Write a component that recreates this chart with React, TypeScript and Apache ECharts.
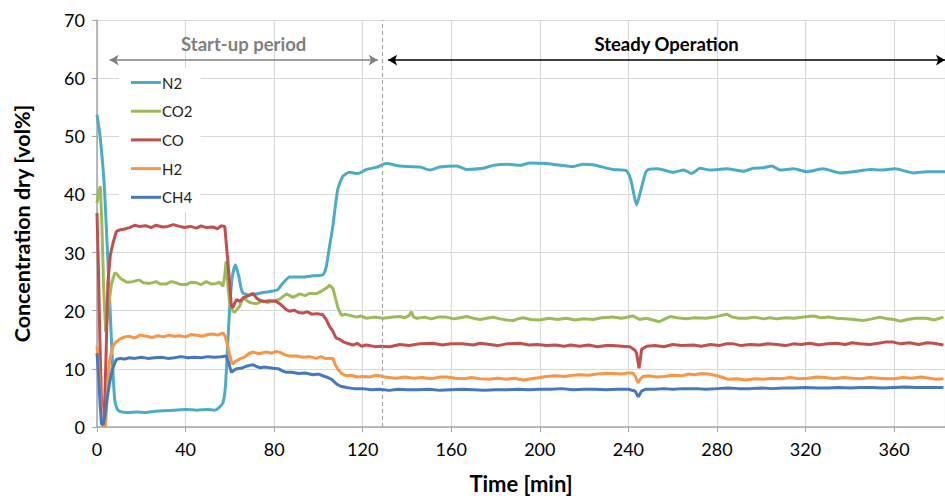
import React, { useEffect, useRef } from "react";
import * as echarts from "echarts";

const seriesNames = ["N2", "CO2", "CO", "H2", "CH4"];
const seriesColors = ["#4BACC6", "#9BBB59", "#C0504D", "#F79646", "#4777C0"];

const n2: number[][] = [[0,53.7],[1.2,50.6],[2.5,45.5],[3.4,40.8],[4.5,32],[5.7,22],[7,11],[8,4.7],[9,3.2],[10.2,2.7],[14,2.5],[18,2.6],[22,2.5],[26,2.7],[30,2.8],[35,2.9],[40,3.0],[45,2.9],[50,3.0],[53,2.9],[55,3.3],[56.9,4.2],[58,7],[59,14],[60,21],[61,25.5],[62.5,27.9],[64,26],[65,24],[66,23],[69,22.7],[73.5,23],[78,23.3],[81.6,23.6],[83,24.3],[84.8,25.1],[87,25.8],[93,25.8],[97.5,26],[102,26.2],[103.5,27.5],[105,31],[106.5,34.5],[108.7,40.8],[111,43.1],[114,43.8],[117.8,43.6],[121.8,44.3],[126.4,44.7],[130.7,45.3],[136.8,44.9],[145.8,44.7],[150.3,44.2],[154.8,44.7],[162.4,44.9],[166.9,44.3],[174.4,44.5],[179,45.0],[185,45.2],[191,45.0],[195.5,45.4],[203,45.3],[207.6,45.1],[215,44.8],[219.6,45.2],[224,45.1],[233,44.3],[239,44.1],[240.5,43.2],[241.5,41.9],[243.7,38.2],[246,41.3],[248.3,44.1],[252.8,44.4],[256,44.2],[260.3,43.8],[265,44.2],[268.6,43.6],[272.4,44.5],[276.9,44.2],[284.4,44.4],[292,44.0],[296.5,44.5],[301,44.6],[304.8,44.9],[308.5,44.2],[314.5,44.4],[320.6,43.9],[328,44.4],[335.6,43.7],[341.6,43.9],[349.2,44.3],[353.7,44.2],[360.5,44.4],[368.8,43.7],[374.8,43.9],[383,43.9]];

const co2: number[][] = [[0,38.5],[0.8,40.5],[1.5,41.4],[2.2,35],[3,24],[3.9,16.4],[5,20],[6.5,24.5],[8,26.5],[9,26.3],[10.5,25.6],[11.7,25.3],[13.5,24.9],[16.2,25.0],[19,25.3],[21,24.8],[23.8,24.7],[26.8,25.0],[28.5,24.6],[31.3,24.6],[33.5,25.0],[35.8,24.8],[38,24.5],[40.4,24.5],[42.5,24.9],[44.9,24.8],[47,24.5],[49.4,25.0],[51.5,24.6],[53.9,24.7],[55.4,24.9],[56.9,24.2],[57.7,26],[58.3,28.5],[59.2,24],[59.9,21.5],[61,20.2],[62,19.7],[63.2,20.2],[64.5,20.8],[66,22.3],[67.5,21.8],[69,21.4],[72,21.2],[75,21.7],[77,21.4],[79.5,21.7],[82.5,22.0],[85.6,22.9],[88.5,22.3],[91.6,22.9],[94,22.6],[96,23.0],[99,22.9],[102,23.5],[104,24.0],[105,24.4],[106.6,23.8],[107.8,22],[108.9,20.4],[110.4,19.2],[112,19.4],[114.2,19.2],[117.2,18.9],[119,19.1],[121.7,18.7],[125,18.9],[129.2,18.7],[133.6,18.9],[136.8,19.0],[139,18.8],[141,19.2],[142,19.8],[143,18.9],[144.5,18.7],[148,18.9],[151,18.6],[154,18.9],[157.9,18.9],[161,18.6],[164,18.8],[167,19.0],[170,18.7],[173,18.5],[176,18.7],[179,18.9],[182,18.6],[185,18.4],[188,18.3],[190,18.6],[192.5,18.8],[196,18.5],[200,18.4],[204,18.7],[208,18.5],[212,18.7],[216,18.4],[220,18.6],[224,18.5],[228,18.8],[233,18.9],[237,18.7],[242,19.1],[245,18.5],[248,18.7],[251,18.4],[254,18.1],[256.5,18.6],[258.8,19.0],[262,18.8],[266,18.6],[270,18.8],[275,18.7],[279,18.9],[282,19.2],[284.4,19.4],[287,18.9],[290,18.7],[293.5,18.7],[297,18.9],[301,18.6],[304,18.8],[307,18.6],[311,18.8],[315,18.7],[319,18.9],[323.6,19.1],[327,18.8],[331,18.9],[334,18.7],[338,18.6],[342,18.5],[346,18.3],[350,18.6],[353.7,18.9],[357,18.6],[360,18.5],[362.8,18.2],[366,18.5],[370,18.7],[374.8,18.7],[378,18.4],[382.3,18.9]];

const co: number[][] = [[0,36.8],[0.6,28],[1.3,15],[2,5],[2.7,0.5],[3.4,3],[4.2,14],[4.9,24.8],[6,29.5],[7.2,31.6],[8.7,33.6],[10.2,33.9],[12,34.0],[14.7,34.3],[17,34.7],[19,34.5],[22.3,34.6],[24.5,34.3],[26.5,34.7],[29.8,34.4],[32,34.5],[34.5,34.8],[37.3,34.5],[39.5,34.3],[42,34.5],[44.9,34.2],[47,34.6],[49.5,34.3],[52.4,34.4],[54.5,34.1],[56,34.6],[57.7,34.5],[58.4,31.5],[59.2,28],[60.7,20.8],[61.4,20.5],[62.2,21.3],[63,21.9],[64.5,21.6],[66,22.2],[68,22.5],[70.5,23.0],[72,22.2],[73.5,21.8],[75,21.6],[78,21.7],[81,21.6],[82.5,21.2],[84,20.7],[85.5,20.2],[87,19.9],[89,20.1],[91,19.7],[93,19.6],[95,19.8],[97,19.4],[99.5,19.5],[102,19.3],[103.5,18.5],[105,17.3],[106.5,16.5],[108,15.3],[109.5,15.1],[111,14.7],[113,14.4],[115.6,14.1],[117.5,14.4],[119.5,13.9],[121.5,14.1],[123.2,14.0],[126,13.8],[128,13.9],[132.3,13.8],[136.8,14.2],[141,14.0],[146,14.3],[151.8,14.4],[156,14.1],[160,14.3],[165,14.3],[170,14.1],[173,14.4],[177.4,14.2],[181,14.0],[185,14.3],[191,14.4],[195,14.1],[199,14.2],[203,14.0],[207,14.1],[211,13.9],[214,14.1],[218,13.9],[222,14.1],[226,13.8],[230,14.0],[233,14.0],[237,13.9],[240.7,13.8],[243,13.2],[243.7,12.7],[244.8,10.1],[246,13.4],[248.3,13.9],[252,14.0],[256,13.8],[260,14.2],[264,14.0],[269.3,14.1],[273,13.9],[277,14.2],[281,14.0],[284,14.3],[287.4,14.3],[291,14.0],[295,14.2],[299,14.1],[303,14.3],[307,14.2],[311,14.0],[314.5,14.3],[318,14.2],[322,14.4],[326,14.1],[330,14.3],[334,14.4],[338,14.2],[341,14.5],[344.7,14.3],[349,14.2],[353,14.4],[356,14.6],[359.7,14.6],[363,14.3],[367,14.5],[371,14.2],[374.8,14.5],[378,14.4],[382.3,14.1]];

const h2: number[][] = [[0,13.9],[0.8,10],[1.6,5],[2.4,1],[3.2,0],[3.9,0.3],[4.8,7],[5.7,11.5],[7.2,13.9],[8.5,14.6],[10.2,15.1],[12.5,15.5],[14.7,15.6],[17,15.3],[19.5,15.8],[22.3,15.6],[25,15.4],[27.5,15.7],[30,15.5],[32.5,15.8],[35,15.6],[37.3,15.7],[40,15.5],[42.5,15.9],[44.9,15.8],[47.5,15.6],[50,15.9],[52.4,16.0],[54.5,15.8],[56.9,16.2],[58,15.5],[59.2,13.6],[60.2,12],[61.1,10.8],[62.5,11.3],[64.5,11.7],[66.5,12.0],[68.5,12.6],[70.5,12.9],[73,12.6],[76.5,12.9],[79,12.7],[81,13.0],[83,12.8],[85,12.4],[87,12.2],[90,12.2],[93,12.0],[96,12.1],[99,11.8],[101,12.1],[103,11.8],[106.6,11.8],[107.5,10.8],[108.9,9.9],[110.5,9.2],[112.7,8.8],[115,8.9],[117.5,8.6],[120.2,8.7],[123,8.6],[126.2,8.9],[130,8.6],[135,8.4],[139,8.6],[143,8.4],[147,8.5],[151,8.3],[155,8.6],[158,8.6],[162,8.4],[166,8.3],[169,8.5],[173,8.3],[177,8.2],[181,8.4],[185,8.2],[188.5,8.4],[192.5,8.1],[196,8.3],[200,8.5],[203,8.7],[207,8.8],[211,8.7],[215,8.9],[218,9.0],[222,8.9],[226,9.1],[230,9.2],[233,9.2],[237,9.1],[240,9.3],[242,9.3],[243.3,8.6],[244.3,7.6],[245.5,8.3],[246.5,8.7],[249,8.8],[252.8,8.6],[256,8.7],[260,8.9],[264,8.8],[267,9.1],[270,9.0],[273,9.2],[276,9.1],[279,8.9],[282,8.6],[285,8.2],[289,8.3],[293,8.1],[297,8.3],[301,8.2],[305,8.4],[309,8.3],[313,8.5],[317,8.3],[321,8.4],[325,8.6],[329,8.5],[333,8.3],[337,8.5],[341,8.4],[345,8.3],[349,8.5],[353,8.4],[357,8.3],[360,8.3],[364,8.5],[368,8.4],[372,8.6],[376,8.4],[379,8.2],[382.3,8.3]];

const ch4: number[][] = [[0,12.7],[0.7,9],[1.4,4],[2,0.5],[2.8,0.4],[3.6,2],[4.6,5],[5.7,7.6],[7,10],[8.7,11.6],[10.5,11.8],[12.5,11.7],[14.7,11.9],[17,11.8],[20,12.0],[23,11.8],[26,11.9],[29,12.0],[32,11.8],[35,11.9],[38,12.1],[41,11.9],[44,12.0],[47,11.9],[50,12.1],[53,12.0],[56,12.1],[58.4,12.2],[59.5,11],[60.7,9.4],[62,9.8],[63,10.0],[65,10.1],[67,10.4],[69,10.6],[70.5,10.7],[72,10.4],[73.5,10.2],[76,10.3],[79.5,10.1],[82,10.0],[84,9.6],[85.6,9.4],[88,9.4],[91,9.2],[94,9.3],[97.6,9.0],[100,9.1],[103.6,8.6],[106,8.2],[108.2,7.4],[110,7.0],[112.7,6.8],[116,6.6],[120,6.6],[124,6.4],[127.7,6.5],[132,6.3],[136,6.5],[140,6.4],[145,6.4],[150,6.5],[155,6.3],[160,6.4],[165,6.5],[170,6.4],[175,6.3],[180,6.4],[185,6.4],[190,6.5],[195,6.4],[200,6.5],[205,6.5],[210,6.6],[215,6.4],[220,6.5],[225,6.5],[230,6.4],[235,6.5],[240,6.5],[243,6.2],[244.5,5.2],[246,6.2],[248,6.5],[252,6.5],[256,6.6],[260,6.5],[265,6.6],[270,6.6],[275,6.5],[280,6.6],[285,6.7],[290,6.6],[295,6.6],[300,6.7],[305,6.6],[310,6.7],[315,6.7],[320,6.8],[325,6.7],[330,6.7],[335,6.8],[340,6.7],[345,6.8],[350,6.8],[355,6.7],[360,6.8],[365,6.9],[370,6.8],[375,6.8],[382.3,6.8]];

const seriesData = [n2, co2, co, h2, ch4];

const xMin = 0;
const xMax = 383;
const xInterval = 40;
const yMin = 0;
const yMax = 70;
const yInterval = 10;

const phaseBoundary = 129;
const startupRange = [5.7, 126.8];
const steadyRange = [131.5, 383];
const arrowLevel = 63.1;
const startupLabel = "Start-up period";
const steadyLabel = "Steady Operation";

const FONT = "Lato, 'Open Sans', sans-serif";

export default function App() {
  const ref = useRef<HTMLDivElement>(null);
  useEffect(() => {
    if (!ref.current) return;
    const chart = echarts.init(ref.current, null, { renderer: "svg" });
    const series: any[] = seriesNames.map((name, i) => ({
      name,
      type: "line",
      data: seriesData[i],
      symbol: "none",
      smooth: i === 0 ? 0.2 : false,
      lineStyle: { width: 3, color: seriesColors[i] },
      itemStyle: { color: seriesColors[i] },
      z: 2 + i,
    }));
    series.push({
      name: "annotations",
      type: "line",
      data: [],
      z: 10,
      markLine: {
        silent: true,
        animation: false,
        precision: 2,
        data: [
          [
            {
              coord: [phaseBoundary, yMin],
              symbol: "none",
              lineStyle: { color: "#a6a6a6", type: [4, 3], width: 1.2 },
              label: { show: false },
            },
            { coord: [phaseBoundary, yMax], symbol: "none" },
          ],
          [
            {
              coord: [startupRange[0], arrowLevel],
              symbol: "arrow",
              symbolSize: [8, 9],
              lineStyle: { color: "#808080", type: "solid", width: 1.5 },
              label: {
                show: true,
                position: "middle",
                formatter: startupLabel,
                color: "#808080",
                fontWeight: "bold",
                fontSize: 18.5,
                fontFamily: FONT,
                distance: 7,
              },
            },
            { coord: [startupRange[1], arrowLevel], symbol: "arrow", symbolSize: [8, 9] },
          ],
          [
            {
              coord: [steadyRange[0], arrowLevel],
              symbol: "arrow",
              symbolSize: [8, 9],
              lineStyle: { color: "#000000", type: "solid", width: 1.5 },
              label: {
                show: true,
                position: "middle",
                formatter: steadyLabel,
                color: "#000000",
                fontWeight: "bold",
                fontSize: 18.5,
                fontFamily: FONT,
                distance: 7,
              },
            },
            { coord: [steadyRange[1], arrowLevel], symbol: "arrow", symbolSize: [8, 9] },
          ],
        ],
      },
    });
    chart.setOption({
      animation: false,
      textStyle: { fontFamily: FONT },
      grid: { left: 97, right: 0, top: 20, bottom: 69, containLabel: false, outerBoundsMode: "none" },
      legend: {
        data: seriesNames.map((name) => ({ name, icon: "rect" })),
        orient: "vertical",
        left: 119,
        top: 68,
        padding: [7, 8, 7, 12],
        backgroundColor: "#ffffff",
        itemWidth: 30,
        itemHeight: 3,
        itemGap: 13.7,
        textStyle: { fontSize: 15, lineHeight: 15, color: "#222", fontFamily: FONT, padding: [0, 0, 0, -4] },
      },
      xAxis: {
        type: "value",
        min: xMin,
        max: xMax,
        interval: xInterval,
        name: "Time [min]",
        nameLocation: "middle",
        nameGap: 45,
        nameTextStyle: { fontSize: 22, fontWeight: "bold", color: "#000", fontFamily: FONT },
        axisLine: { show: true, onZero: false, lineStyle: { color: "#a6a6a6", width: 1.5 } },
        axisTick: { show: true, length: 5, lineStyle: { color: "#a6a6a6" } },
        axisLabel: {
          fontSize: 18,
          color: "#000",
          margin: 13,
          formatter: (v: number) => (v % xInterval === 0 ? String(v) : ""),
        },
        splitLine: { show: true, lineStyle: { color: "#d9d9d9", width: 1.2 } },
      },
      yAxis: {
        type: "value",
        min: yMin,
        max: yMax,
        interval: yInterval,
        name: "Concentration dry [vol%]",
        nameLocation: "middle",
        nameGap: 64,
        nameTextStyle: { fontSize: 21.5, fontWeight: "bold", color: "#000", fontFamily: FONT },
        axisLine: { show: true, lineStyle: { color: "#a6a6a6", width: 1.5 } },
        axisTick: { show: true, length: 5, lineStyle: { color: "#a6a6a6" } },
        axisLabel: { fontSize: 18, color: "#000", margin: 12 },
        splitLine: { show: true, lineStyle: { color: "#d9d9d9", width: 1.2 } },
      },
      series,
    });
    return () => chart.dispose();
  }, []);
  return <div ref={ref} style={{ width: 945, height: 496, position: "absolute", left: 0, top: 0 }} />;
}
